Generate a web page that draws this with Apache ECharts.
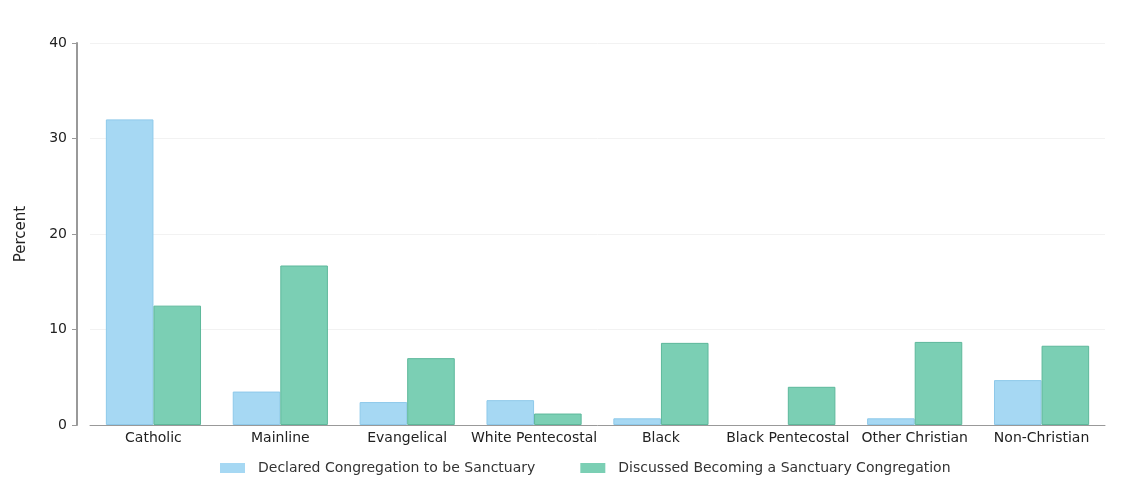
<!DOCTYPE html>
<html>
<head>
<meta charset="utf-8">
<script src="https://cdn.jsdelivr.net/npm/echarts@6/dist/echarts.min.js"></script>
<style>
html,body{margin:0;padding:0;background:#fff;}
#chart{width:1138px;height:481px;}
</style>
</head>
<body>
<div id="chart"></div>
<script>
var categories = ['Catholic','Mainline','Evangelical','White Pentecostal','Black','Black Pentecostal','Other Christian','Non-Christian'];
var declared = [32.0, 3.5, 2.4, 2.6, 0.7, 0, 0.7, 4.7];
var discussed = [12.5, 16.7, 7.0, 1.2, 8.6, 4.0, 8.7, 8.3];
var seriesNames = ['Declared Congregation to be Sanctuary','Discussed Becoming a Sanctuary Congregation'];
var yTicks = [0, 10, 20, 30, 40];

function toItems(arr) {
  return arr.map(function (v) {
    return v === 0 ? {value: v, itemStyle: {borderWidth: 0}} : v;
  });
}

var chart = echarts.init(document.getElementById('chart'));
var font = 'DejaVu Sans, Liberation Sans, sans-serif';
chart.setOption({
  animation: false,
  textStyle: {fontFamily: font},
  grid: {left: 90, right: 33, top: 43, bottom: 56},
  legend: {
    top: 456, left: 215,
    icon: 'rect',
    itemWidth: 25, itemHeight: 10, itemGap: 45,
    itemStyle: {borderWidth: 0},
    textStyle: {fontSize: 14, color: '#333', fontFamily: font, padding: [0, 0, 0, 8]},
    data: seriesNames
  },
  xAxis: {
    type: 'category', data: categories,
    axisLine: {lineStyle: {color: '#999', width: 1}},
    axisTick: {show: false},
    axisLabel: {fontSize: 14, color: '#222', margin: 6, interval: 0}
  },
  yAxis: {
    type: 'value', min: yTicks[0], max: yTicks[yTicks.length-1], interval: 10,
    offset: 13,
    name: 'Percent', nameLocation: 'middle', nameGap: 48, nameRotate: 90,
    nameTextStyle: {fontSize: 15, color: '#222'},
    axisLine: {show: true, lineStyle: {color: '#999', width: 2}},
    axisTick: {show: true, length: 5, lineStyle: {color: '#999'}},
    axisLabel: {fontSize: 14, color: '#222', margin: 10},
    splitLine: {show: true, lineStyle: {color: '#f2f2f2', width: 1}}
  },
  series: [
    {name: seriesNames[0], type: 'bar', data: toItems(declared), barGap: '0%', barCategoryGap: '25%',
     itemStyle: {color: '#a6d8f3', borderColor: '#8ec9ea', borderWidth: 1}},
    {name: seriesNames[1], type: 'bar', data: toItems(discussed),
     itemStyle: {color: '#7bcfb4', borderColor: '#5db89b', borderWidth: 1}}
  ]
});
</script>
</body>
</html>
